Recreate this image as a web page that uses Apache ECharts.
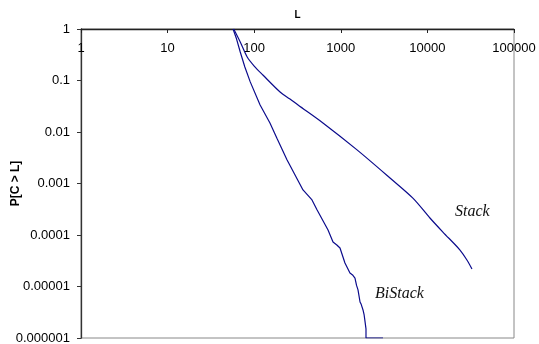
<!DOCTYPE html>
<html>
<head>
<meta charset="utf-8">
<script src="https://cdn.jsdelivr.net/npm/echarts@6/dist/echarts.min.js"></script>
<style>
  html, body { margin: 0; padding: 0; background: #fff; }
  #chart { width: 539px; height: 344px; }
</style>
</head>
<body>
<div id="chart"></div>
<script>
// tick labels, indexed by power of ten
const xTickLabels = ['1', '10', '100', '1000', '10000', '100000'];
const yTickLabels = ['0.000001', '0.00001', '0.0001', '0.001', '0.01', '0.1', '1']; // 1e-6 .. 1

// Stack: [L, P[C > L]]
const stackL = [58, 69, 83, 100, 126, 199, 259, 321, 622, 1540, 3700, 6800, 10700, 15100, 23800, 28600, 32700];
const stackP = [1, 0.56, 0.286, 0.191, 0.128, 0.0598, 0.0437, 0.0334, 0.015, 0.0045, 0.00128, 0.00052, 0.000214, 0.000114, 0.000051, 0.0000327, 0.0000219];

// BiStack: [L, P[C > L]]
const biL = [57, 62, 69, 78, 90, 117, 152, 183, 239, 366, 465, 531, 712, 813, 900, 979, 1117, 1276, 1380, 1458, 1520, 1580, 1668, 1720, 1805, 1860, 1903, 1954, 1954, 3070];
const biP = [1, 0.67, 0.357, 0.183, 0.094, 0.0334, 0.015, 0.0076, 0.0029, 0.00075, 0.00048, 0.00031, 0.000125, 0.000073, 0.000064, 0.000056, 0.0000286, 0.0000183, 0.0000165, 0.0000146, 0.0000105, 0.0000086, 0.000005, 0.0000045, 0.0000035, 0.0000028, 0.0000021, 0.0000015, 0.000001, 0.000001];

const pairs = (xs, ys) => xs.map((x, i) => [x, ys[i]]);
const lineColor = '#0b0b8c';

const chart = echarts.init(document.getElementById('chart'), null, { renderer: 'canvas' });

const option = {
    animation: false,
    backgroundColor: '#fff',
    grid: {
        left: 81, right: 25, top: 29, bottom: 6,
        outerBoundsMode: 'none', containLabel: false,
        show: true, borderColor: '#888', borderWidth: 1, backgroundColor: 'transparent'
    },
    xAxis: {
        type: 'log', logBase: 10, min: 1, max: 100000,
        position: 'top',
        name: 'L', nameLocation: 'middle', nameGap: 9, nameMoveOverlap: false,
        nameTextStyle: { fontFamily: 'Arial, Liberation Sans', fontWeight: 'bold', fontSize: 10, color: '#000' },
        axisLine: { show: true, lineStyle: { color: '#222', width: 1.3 } },
        axisTick: { show: true, inside: true, length: 4, lineStyle: { color: '#222', width: 1 } },
        minorTick: { show: false },
        splitLine: { show: false },
        axisLabel: {
            inside: true, margin: 13,
            fontFamily: 'Arial, Liberation Sans', fontSize: 13, color: '#000',
            formatter: v => xTickLabels[Math.round(Math.log10(v))]
        }
    },
    yAxis: {
        type: 'log', logBase: 10, min: 0.000001, max: 1,
        name: 'P[C > L]', nameLocation: 'middle', nameGap: 59, nameRotate: 90, nameMoveOverlap: false,
        nameTextStyle: { fontFamily: 'Arial, Liberation Sans', fontWeight: 'bold', fontSize: 12, color: '#000' },
        axisLine: { show: true, lineStyle: { color: '#333', width: 1.3 } },
        axisTick: { show: true, inside: false, length: 4, lineStyle: { color: '#333', width: 1 } },
        minorTick: { show: false },
        splitLine: { show: false },
        axisLabel: {
            margin: 11,
            fontFamily: 'Arial, Liberation Sans', fontSize: 13, color: '#000',
            formatter: v => yTickLabels[Math.round(Math.log10(v)) + 6]
        }
    },
    series: [
        {
            name: 'Stack', type: 'line', data: pairs(stackL, stackP),
            showSymbol: false, smooth: 0.3,
            lineStyle: { color: lineColor, width: 1.2 }
        },
        {
            name: 'BiStack', type: 'line', data: pairs(biL, biP),
            showSymbol: false, smooth: false,
            lineStyle: { color: lineColor, width: 1.2 }
        }
    ],
    graphic: [
        {
            type: 'text', left: 455, top: 204,
            style: { text: 'Stack', fontFamily: 'Liberation Serif, Times New Roman', fontStyle: 'italic', fontSize: 16, fill: '#111' }
        },
        {
            type: 'text', left: 375, top: 286,
            style: { text: 'BiStack', fontFamily: 'Liberation Serif, Times New Roman', fontStyle: 'italic', fontSize: 16, fill: '#111' }
        }
    ]
};

chart.setOption(option);
</script>
</body>
</html>
